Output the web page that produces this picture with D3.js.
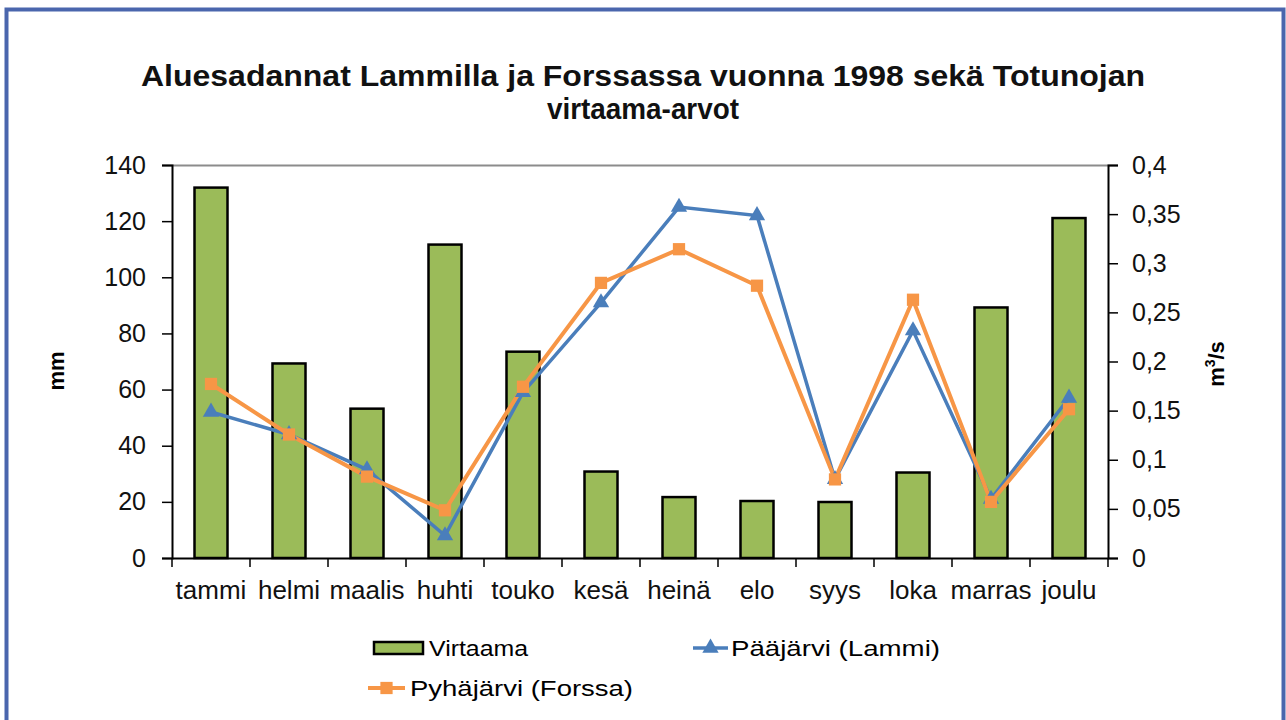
<!DOCTYPE html>
<meta charset="utf-8">
<style>
body { margin: 0; background: #fff; }
svg { font-family: "Liberation Sans", Arial, sans-serif; }
.tickLabel { font-size: 25px; fill: #111; }
.monthLabel { font-size: 26px; fill: #111; }
.axisTitle { font-size: 22px; font-weight: bold; }
.legendText { font-size: 22px; }
</style>

<svg width="1286" height="720"></svg>

<script src="https://cdn.jsdelivr.net/npm/d3@7"></script>
<script>

//months and series
const months = ["tammi", "helmi", "maalis", "huhti", "touko", "kesä", "heinä", "elo", "syys", "loka", "marras", "joulu"];
//flow (m3/s), right axis
const virtaama = [0.377, 0.198, 0.152, 0.319, 0.21, 0.088, 0.062, 0.058, 0.057, 0.087, 0.255, 0.346];
//precipitation (mm), left axis
const paajarvi = [52, 44, 31.5, 8, 59, 91, 125, 122, 28, 81, 21, 57];
const pyhajarvi = [62, 44, 29, 17, 61, 98, 110, 97, 28, 92, 20, 53];

const leftTicks = [0, 20, 40, 60, 80, 100, 120, 140];
const rightTicks = [0, 0.05, 0.1, 0.15, 0.2, 0.25, 0.3, 0.35, 0.4];

const svg = d3.select("svg");

//plot area
const plot = {left: 172, right: 1108, top: 165, bottom: 558};

const x = d3.scaleBand()
    .domain(months)
    .range([plot.left, plot.right]);

const yMm = d3.scaleLinear()
    .domain([0, 140])
    .range([plot.bottom, plot.top]);

const yFlow = d3.scaleLinear()
    .domain([0, 0.4])
    .range([plot.bottom, plot.top]);

//blue frame round the whole chart
svg.append("rect")
    .attr("x", 6.5)
    .attr("y", 9.5)
    .attr("width", 1277)
    .attr("height", 740)
    .attr("fill", "none")
    .attr("stroke", "#4a66ad")
    .attr("stroke-width", 4);

//title (the original font is wider than Arial, so stretch it)
const title = svg.append("text")
    .attr("text-anchor", "middle")
    .attr("font-weight", "bold")
    .attr("font-size", 29)
    .attr("fill", "#111");
title.append("tspan").attr("x", 643).attr("y", 86)
    .attr("textLength", 1004).attr("lengthAdjust", "spacingAndGlyphs")
    .text("Aluesadannat Lammilla ja Forssassa vuonna 1998 sekä Totunojan");
title.append("tspan").attr("x", 643).attr("y", 119)
    .attr("textLength", 192).attr("lengthAdjust", "spacingAndGlyphs")
    .text("virtaama-arvot");

//top border of the plot area
svg.append("line")
    .attr("x1", plot.left).attr("x2", plot.right)
    .attr("y1", plot.top + 0.5).attr("y2", plot.top + 0.5)
    .attr("stroke", "#8c8c8c")
    .attr("stroke-width", 2);

//bars
const barW = 33;
svg.append("g")
  .selectAll("rect")
  .data(virtaama)
  .enter().append("rect")
    .attr("x", (d, i) => x(months[i]) + x.bandwidth() / 2 - barW / 2)
    .attr("y", d => yFlow(d))
    .attr("width", barW)
    .attr("height", d => plot.bottom - yFlow(d))
    .attr("fill", "#9bbb59")
    .attr("stroke", "#000")
    .attr("stroke-width", 2.5);

//axes
const leftAxis = svg.append("g")
    .attr("transform", `translate(${plot.left},0)`)
    .call(d3.axisLeft(yMm).tickValues(leftTicks).tickSize(10).tickPadding(16));

const rightAxis = svg.append("g")
    .attr("transform", `translate(${plot.right},0)`)
    .call(d3.axisRight(yFlow).tickValues(rightTicks).tickSize(10).tickPadding(14)
      .tickFormat(d => String(+d.toFixed(2)).replace(".", ",")));

const bottomAxis = svg.append("g")
    .attr("transform", `translate(0,${plot.bottom})`)
    .call(d3.axisBottom(x).tickSize(0).tickPadding(28));

//ticks between the months
bottomAxis.selectAll(".bandTick")
    .data(d3.range(months.length + 1))
    .enter().append("line")
    .attr("class", "bandTick")
    .attr("x1", i => plot.left + i * x.step())
    .attr("x2", i => plot.left + i * x.step())
    .attr("y1", 0).attr("y2", 9)
    .attr("stroke", "#000")
    .attr("stroke-width", 1.5);

[leftAxis, rightAxis, bottomAxis].forEach(a => {
  a.select(".domain").attr("stroke", "#000").attr("stroke-width", 2);
  a.selectAll(".tick line").attr("stroke", "#000").attr("stroke-width", 1.5);
  a.selectAll(".tick text").attr("class", "tickLabel").attr("font-family", null).attr("font-size", null);
});
bottomAxis.selectAll(".tick text").attr("class", "monthLabel").attr("dy", "0.5em");

//axis titles
svg.append("text")
    .attr("class", "axisTitle")
    .attr("transform", "translate(64,371) rotate(-90)")
    .attr("text-anchor", "middle")
    .text("mm");

const flowTitle = svg.append("text")
    .attr("class", "axisTitle")
    .attr("transform", "translate(1224,364) rotate(-90)")
    .attr("text-anchor", "middle");
flowTitle.append("tspan").text("m");
flowTitle.append("tspan").attr("font-size", 14).attr("dy", -9).text("3");
flowTitle.append("tspan").attr("dy", 9).text("/s");

//lines
const line = d3.line()
    .x((d, i) => x(months[i]) + x.bandwidth() / 2)
    .y(d => yMm(d));

svg.append("path")
    .datum(paajarvi)
    .attr("d", line)
    .attr("fill", "none")
    .attr("stroke", "#4a7ebb")
    .attr("stroke-width", 3.5);

svg.append("path")
    .datum(pyhajarvi)
    .attr("d", line)
    .attr("fill", "none")
    .attr("stroke", "#f79646")
    .attr("stroke-width", 4);

const triangle = d3.symbol().type(d3.symbolTriangle).size(115);
const square = d3.symbol().type(d3.symbolSquare).size(150);

svg.append("g")
  .selectAll("path")
  .data(paajarvi)
  .enter().append("path")
    .attr("d", triangle)
    .attr("transform", (d, i) => `translate(${x(months[i]) + x.bandwidth() / 2},${yMm(d)})`)
    .attr("fill", "#4a7ebb");

svg.append("g")
  .selectAll("path")
  .data(pyhajarvi)
  .enter().append("path")
    .attr("d", square)
    .attr("transform", (d, i) => `translate(${x(months[i]) + x.bandwidth() / 2},${yMm(d)})`)
    .attr("fill", "#f79646");

//legend
const legend = svg.append("g");

legend.append("rect")
    .attr("x", 374).attr("y", 642)
    .attr("width", 49).attr("height", 12)
    .attr("fill", "#9bbb59")
    .attr("stroke", "#000")
    .attr("stroke-width", 2.5);
legend.append("text")
    .attr("class", "legendText")
    .attr("x", 429).attr("y", 656)
    .attr("textLength", 99).attr("lengthAdjust", "spacingAndGlyphs")
    .text("Virtaama");

legend.append("line")
    .attr("x1", 693).attr("x2", 728)
    .attr("y1", 648).attr("y2", 648)
    .attr("stroke", "#4a7ebb").attr("stroke-width", 3.5);
legend.append("path")
    .attr("d", triangle)
    .attr("transform", "translate(710.5,648)")
    .attr("fill", "#4a7ebb");
legend.append("text")
    .attr("class", "legendText")
    .attr("x", 731).attr("y", 656)
    .attr("textLength", 209).attr("lengthAdjust", "spacingAndGlyphs")
    .text("Pääjärvi (Lammi)");

legend.append("line")
    .attr("x1", 368).attr("x2", 405)
    .attr("y1", 688).attr("y2", 688)
    .attr("stroke", "#f79646").attr("stroke-width", 4);
legend.append("path")
    .attr("d", square)
    .attr("transform", "translate(386.5,688)")
    .attr("fill", "#f79646");
legend.append("text")
    .attr("class", "legendText")
    .attr("x", 410).attr("y", 696)
    .attr("textLength", 223).attr("lengthAdjust", "spacingAndGlyphs")
    .text("Pyhäjärvi (Forssa)");

</script>
